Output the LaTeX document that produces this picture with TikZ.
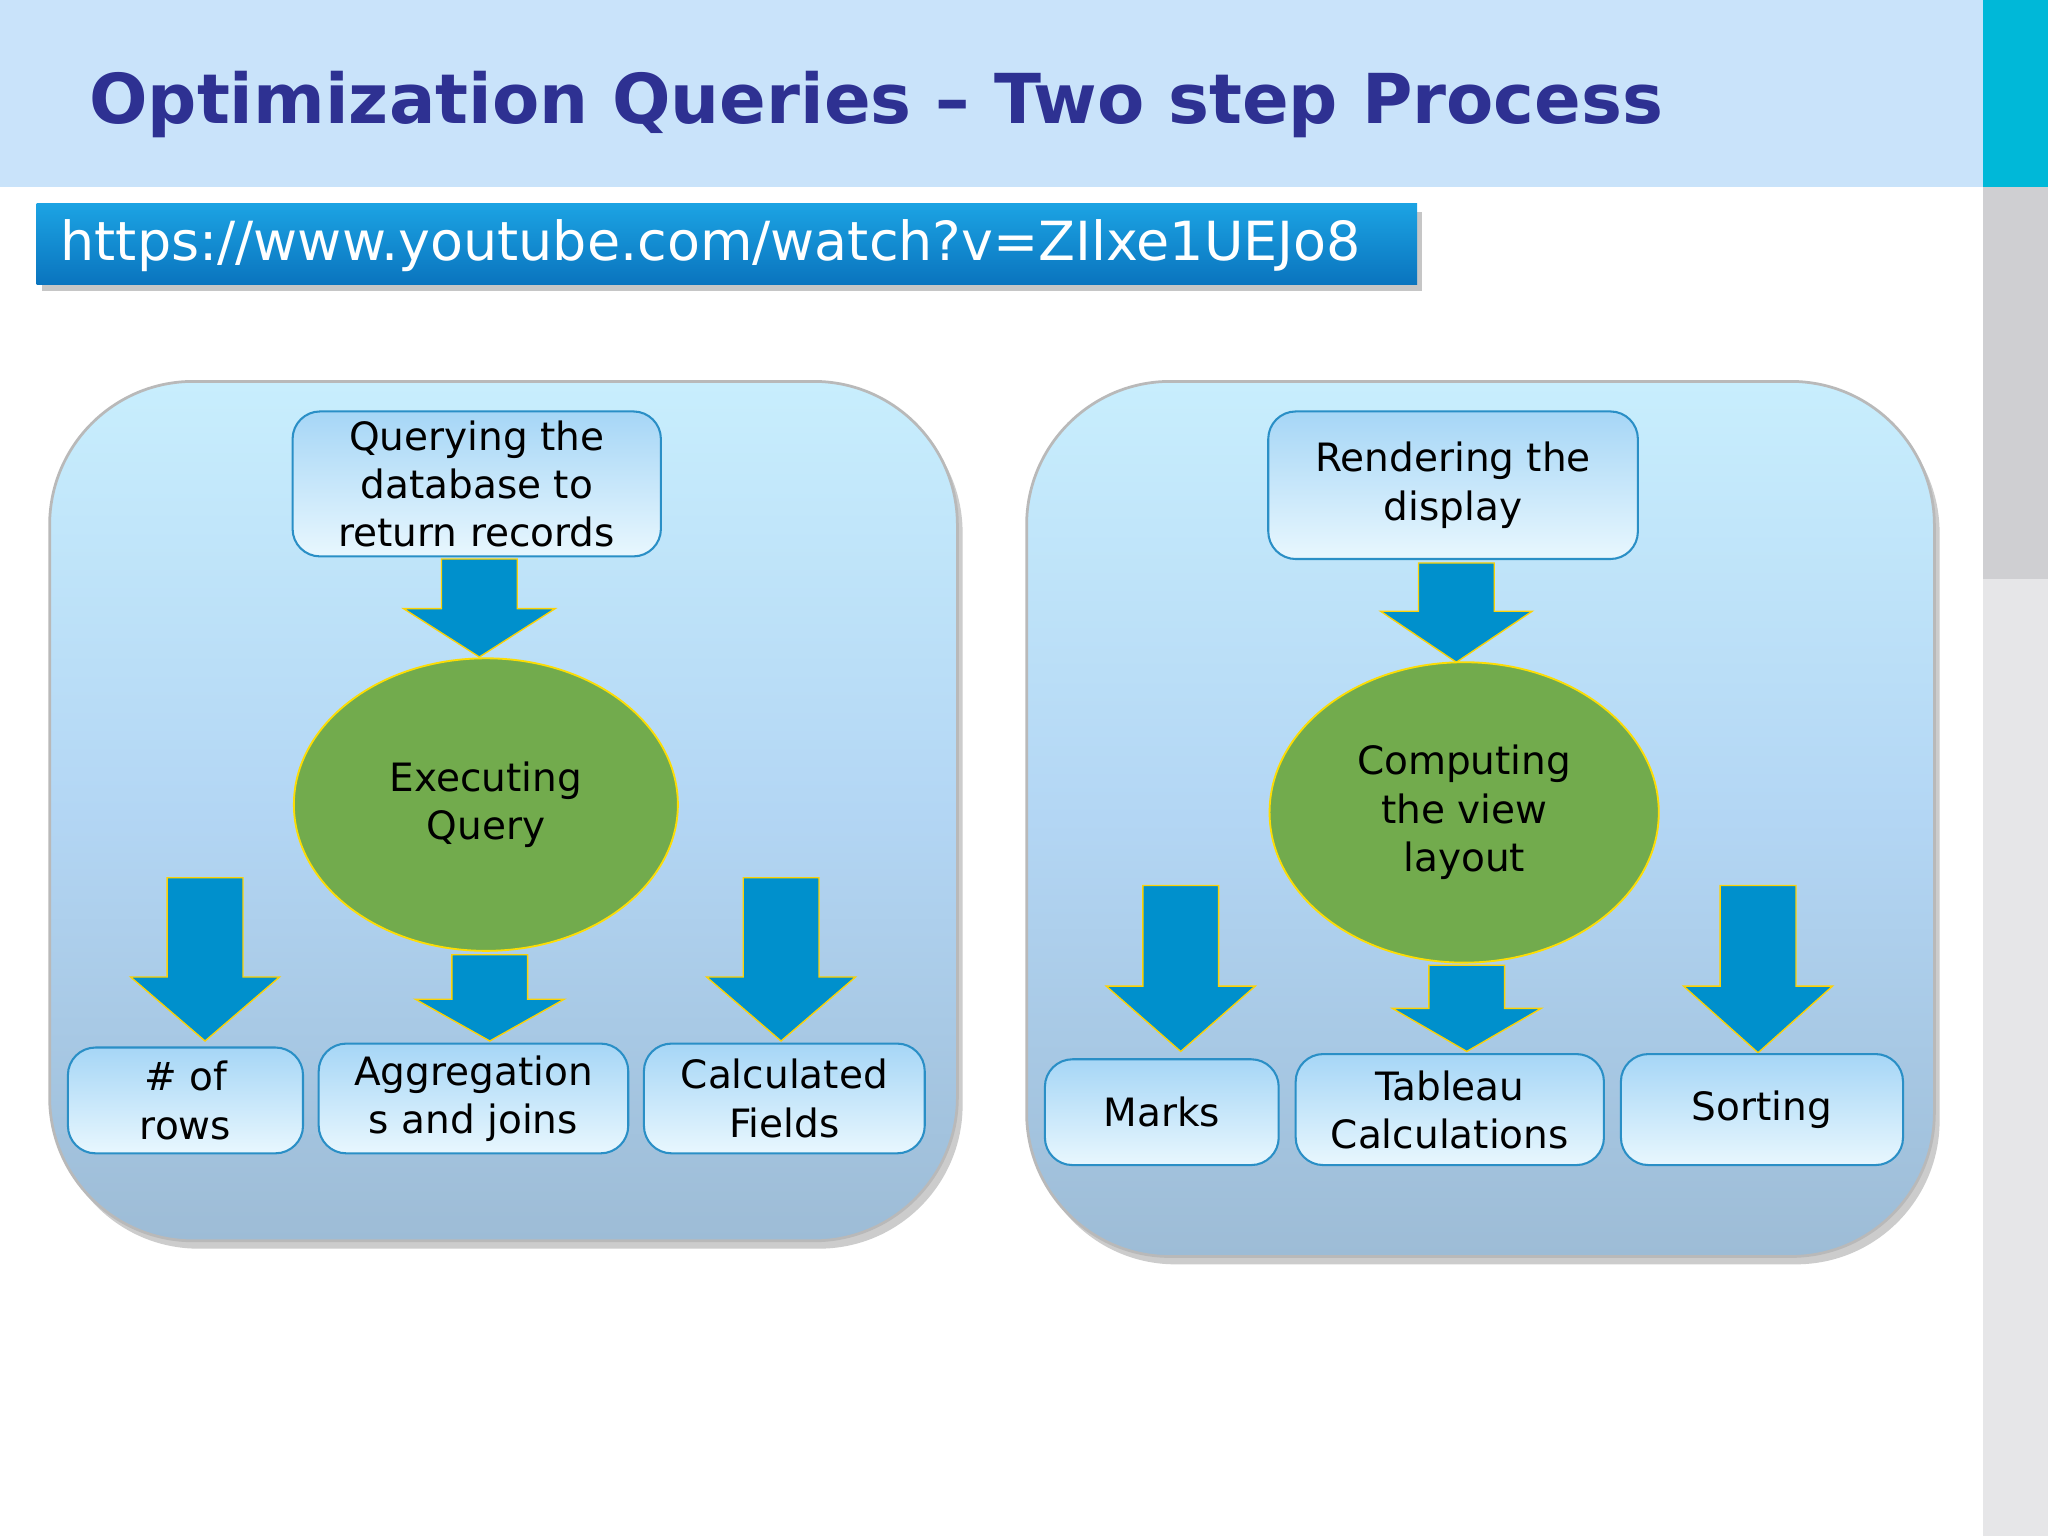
\documentclass[tikz,border=0pt]{standalone}
\usepackage{fontspec}
\setmainfont{DejaVu Sans}
\usetikzlibrary{shapes.geometric}
\definecolor{band}{HTML}{C9E3FA}
\definecolor{teal}{HTML}{00B8D8}
\definecolor{greyA}{HTML}{CFCFD2}
\definecolor{greyB}{HTML}{E6E6E8}
\definecolor{navy}{HTML}{2E3192}
\definecolor{arr}{HTML}{0090CC}
\definecolor{leaf}{HTML}{72AB4D}
\definecolor{bord}{HTML}{2A8FC6}
\definecolor{pTop}{HTML}{C8EEFD}
\definecolor{pMid}{HTML}{B3D6F4}
\definecolor{pBot}{HTML}{9DBCD6}
\definecolor{bTop}{HTML}{A6D6F6}
\definecolor{bBot}{HTML}{E8F7FE}
\definecolor{uTop}{HTML}{1CA3E3}
\definecolor{uBot}{HTML}{0A74BE}
\tikzset{
 panel/.style={rounded corners=110*0.02cm, draw=gray!55, line width=1.2pt, top color=pTop, bottom color=pBot, middle color=pMid},
 box/.style={rounded corners=12pt, draw=bord, line width=0.9pt, top color=bTop, bottom color=bBot, align=center, font=\fontsize{17}{21}\selectfont, inner sep=0pt},
 oval/.style={ellipse, fill=leaf, draw=yellow!80!orange, line width=0.8pt, align=center, font=\fontsize{17}{21}\selectfont, inner sep=0pt},
 darr/.style={fill=arr, draw=yellow!70!orange, line width=0.6pt}
}
\newcommand{\mydarrow}[6]{% x, ytop, yhead, ybot, halfshaft, halfhead
 \fill[darr] (#1-#5,#2) -- (#1+#5,#2) -- (#1+#5,#3) -- (#1+#6,#3) -- (#1,#4) -- (#1-#6,#3) -- (#1-#5,#3) -- cycle;}
\begin{document}
\begin{tikzpicture}[x=0.02cm,y=-0.02cm]
\useasboundingbox (0,0) rectangle (1568,1176);
\fill[white] (0,0) rectangle (1568,1176);
\fill[band] (0,0) rectangle (1518,143);
\fill[teal] (1518,0) rectangle (1568,143);
\fill[greyA] (1518,143) rectangle (1568,443);
\fill[greyB] (1518,443) rectangle (1568,1176);
\node[anchor=west, text=navy, font=\fontsize{30}{36}\selectfont\bfseries, inner sep=0pt] (title) at (68,80) {Optimization Queries – Two step Process};
\fill[gray!45] (32,162) rectangle (1089,223);
\shade[top color=uTop, bottom color=uBot, draw=none] (28,156) rectangle (1085,218);
\node[anchor=west, text=white, font=\fontsize{23.5}{28}\selectfont, inner sep=0pt] (url) at (46,188) {https://www.youtube.com/watch?v=ZIlxe1UEJo8};
% panels
\fill[gray!40] (42,298) [rounded corners=2.2cm] rectangle (737,956);
\path[panel] (38,292) rectangle (733,950);
\fill[gray!40] (790,298) [rounded corners=2.2cm] rectangle (1485,968);
\path[panel] (786,292) rectangle (1481,962);
% left panel
\node[box, minimum width=282*0.02cm, minimum height=111*0.02cm] (q) at (365,370.5) {Querying the\\database to\\return records};
\mydarrow{367}{428}{466}{503}{29}{58}
\node[oval, minimum width=294*0.02cm, minimum height=224*0.02cm] (eq) at (372,616) {Executing\\Query};
\mydarrow{157}{672}{748}{797}{29}{57}
\mydarrow{375}{731}{765}{797}{29}{57}
\mydarrow{598}{672}{748}{797}{29}{57}
\node[box, minimum width=180*0.02cm, minimum height=81*0.02cm] (rows) at (142,842.5) {\# of\\rows};
\node[box, minimum width=237*0.02cm, minimum height=84*0.02cm] (agg) at (362.5,841) {Aggregation\\s and joins};
\node[box, minimum width=215*0.02cm, minimum height=84*0.02cm] (cf) at (600.5,841) {Calculated\\Fields};
% right panel
\node[box, minimum width=283*0.02cm, minimum height=113*0.02cm] (rd) at (1112.5,371.5) {Rendering the\\display};
\mydarrow{1115}{431}{468}{507}{29}{58}
\node[oval, minimum width=298*0.02cm, minimum height=230*0.02cm] (cv) at (1121,622) {Computing\\the view\\layout};
\mydarrow{904}{678}{755}{805}{29}{57}
\mydarrow{1123}{739}{772}{805}{29}{57}
\mydarrow{1346}{678}{755}{806}{29}{57}
\node[box, minimum width=179*0.02cm, minimum height=81*0.02cm] (mk) at (889.5,851.5) {Marks};
\node[box, minimum width=236*0.02cm, minimum height=85*0.02cm] (tc) at (1110,849.5) {Tableau\\Calculations};
\node[box, minimum width=216*0.02cm, minimum height=85*0.02cm] (st) at (1349,849.5) {Sorting};
\end{tikzpicture}
\end{document}
